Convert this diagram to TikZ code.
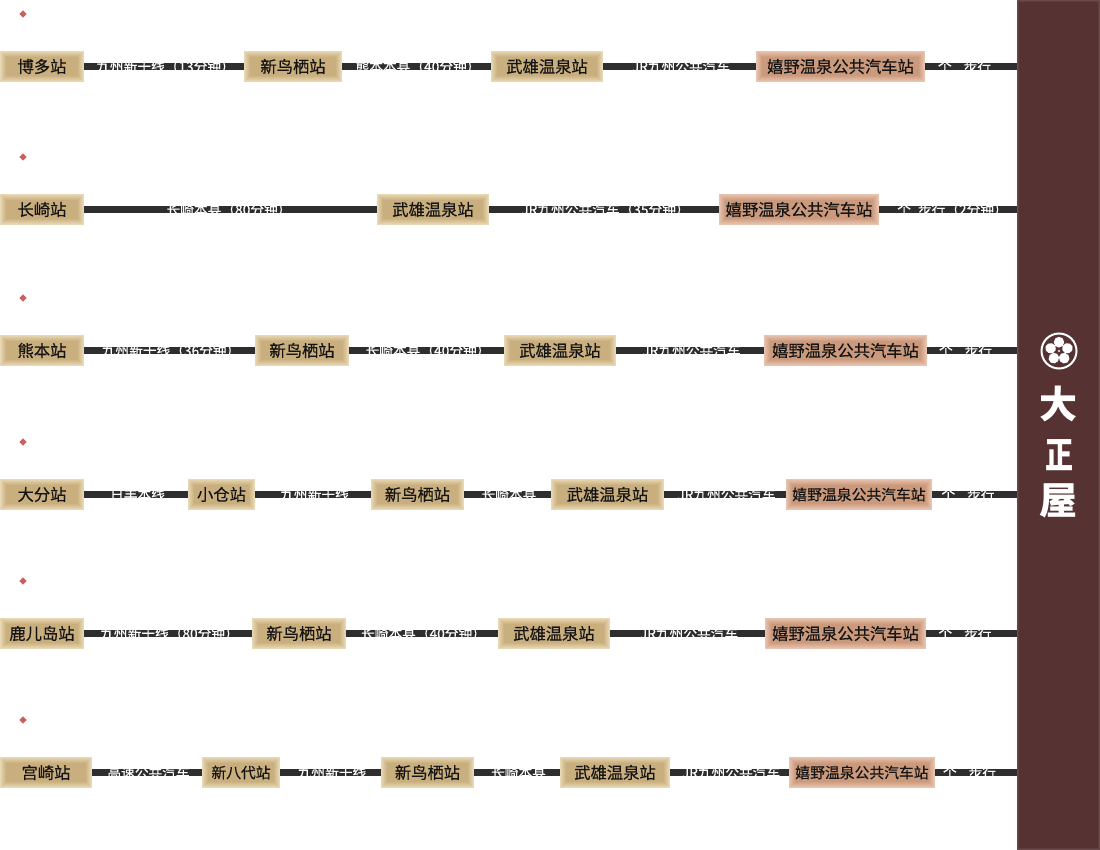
\documentclass[tikz,border=0pt]{standalone}
\usepackage{fontspec}
\setmainfont{Noto Sans CJK SC}
\newfontfamily\stnfont[FakeBold=0.35]{Noto Sans CJK SC}
\usetikzlibrary{shapes.geometric}
\definecolor{tanedge}{HTML}{E8D8B4}
\definecolor{tanmid}{HTML}{C9AE7E}
\definecolor{rosedge}{HTML}{E8C4B0}
\definecolor{rosmid}{HTML}{CB9A7C}
\definecolor{barcol}{HTML}{2E2E2E}
\definecolor{panelcol}{HTML}{563232}
\definecolor{paneledge}{HTML}{6A4A4A}
\definecolor{markcol}{HTML}{C9605C}
\newcommand{\glowrects}[3]{%
  \foreach \i in {0,...,#3}{%
    \pgfmathsetmacro{\mixv}{\i*100/#3}%
    \fill[#2!\mixv!#1] ([shift={(\i pt,\i pt)}]path picture bounding box.south west) rectangle ([shift={(-\i pt,-\i pt)}]path picture bounding box.north east);
  }%
}
\tikzset{
  boxbase/.style={inner sep=0pt,minimum height=31,text=black!92,font=\stnfont\fontsize{16.3}{18}\selectfont},
  station/.style={boxbase,path picture={\glowrects{tanedge}{tanmid}{6}}},
  terminal/.style={boxbase,path picture={\glowrects{rosedge}{rosmid}{6}}},
  bar/.style={draw=barcol,line width=7pt},
  lbl/.style={text=white,inner sep=0pt,midway,xshift=1.5pt,font=\stnfont\fontsize{13.7}{16}\selectfont},
  walk/.style={lbl,xshift=-8pt},
  marker/.style={diamond,fill=markcol,inner sep=0pt,minimum width=7.5,minimum height=7.5},
  panelbox/.style={inner sep=0pt,minimum width=83,minimum height=850,path picture={\glowrects{paneledge}{panelcol}{2}}},
  logochar/.style={text=white,inner sep=0pt,font=\fontsize{38}{40}\selectfont\bfseries}
}
\newcommand{\stn}[6][station]{\node[#1,minimum width={#4-#3}] (#2) at ({(#3+#4)/2},#5) {\raisebox{-1.8pt}{#6}};}
\newcommand{\smallfs}{\fontsize{14.8}{18}\selectfont}
\begin{document}
\begin{tikzpicture}[x=1pt,y=-1pt]
\useasboundingbox (0,0) rectangle (1100,850);
\node[panelbox] (panel) at (1058.5,425) {};
% markers
\node[marker] (m1) at (23,14) {};
\node[marker] (m2) at (23,157) {};
\node[marker] (m3) at (23,298) {};
\node[marker] (m4) at (23,442) {};
\node[marker] (m5) at (23,581) {};
\node[marker] (m6) at (23,720) {};
% row 1
\stn{a1}{0}{84}{66.5}{博多站}
\stn{a2}{244}{342}{66.5}{新鸟栖站}
\stn{a3}{491}{603}{66.5}{武雄温泉站}
\stn[terminal]{a4}{756}{925}{66.5}{嬉野温泉公共汽车站}
\draw[bar] (a1) -- node[lbl]{九州新干线（13分钟）} (a2);
\draw[bar] (a2) -- node[lbl]{熊本本县（40分钟）} (a3);
\draw[bar] (a3) -- node[lbl]{JR九州公共汽车} (a4);
\draw[bar] (a4) -- node[walk]{个\hspace{12pt}步行} (panel.west |- a4);
% row 2
\stn{b1}{0}{84}{209.5}{长崎站}
\stn{b2}{377}{489}{209.5}{武雄温泉站}
\stn[terminal]{b3}{719}{879}{209.5}{嬉野温泉公共汽车站}
\draw[bar] (b1) -- node[lbl,xshift=-3pt]{长崎本县（80分钟）} (b2);
\draw[bar] (b2) -- node[lbl]{JR九州公共汽车（35分钟）} (b3);
\draw[bar] (b3) -- node[lbl,xshift=3pt]{个\hspace{7pt}步行（2分钟）} (panel.west |- b3);
% row 3
\stn{c1}{0}{84}{350.5}{熊本站}
\stn{c2}{255}{349}{350.5}{新鸟栖站}
\stn{c3}{504}{616}{350.5}{武雄温泉站}
\stn[terminal]{c4}{764}{927}{350.5}{嬉野温泉公共汽车站}
\draw[bar] (c1) -- node[lbl]{九州新干线（36分钟）} (c2);
\draw[bar] (c2) -- node[lbl]{长崎本县（40分钟）} (c3);
\draw[bar] (c3) -- node[lbl]{JR九州公共汽车} (c4);
\draw[bar] (c4) -- node[walk]{个\hspace{12pt}步行} (panel.west |- c4);
% row 4
\stn{d1}{0}{84}{494.5}{大分站}
\stn{d2}{188}{255}{494.5}{小仓站}
\stn{d3}{371}{464}{494.5}{新鸟栖站}
\stn{d4}{551}{664}{494.5}{武雄温泉站}
\stn[terminal]{d5}{786}{932}{494.5}{\smallfs 嬉野温泉公共汽车站}
\draw[bar] (d1) -- node[lbl]{日丰本线} (d2);
\draw[bar] (d2) -- node[lbl]{九州新干线} (d3);
\draw[bar] (d3) -- node[lbl]{长崎本县} (d4);
\draw[bar] (d4) -- node[lbl]{JR九州公共汽车} (d5);
\draw[bar] (d5) -- node[walk]{个\hspace{12pt}步行} (panel.west |- d5);
% row 5
\stn{e1}{0}{84}{633.5}{鹿儿岛站}
\stn{e2}{252}{346}{633.5}{新鸟栖站}
\stn{e3}{498}{610}{633.5}{武雄温泉站}
\stn[terminal]{e4}{765}{926}{633.5}{嬉野温泉公共汽车站}
\draw[bar] (e1) -- node[lbl]{九州新干线（80分钟）} (e2);
\draw[bar] (e2) -- node[lbl]{长崎本县（40分钟）} (e3);
\draw[bar] (e3) -- node[lbl]{JR九州公共汽车} (e4);
\draw[bar] (e4) -- node[walk]{个\hspace{12pt}步行} (panel.west |- e4);
% row 6
\stn{f1}{0}{92}{772.5}{宫崎站}
\stn{f2}{202}{280}{772.5}{\smallfs 新八代站}
\stn{f3}{381}{474}{772.5}{新鸟栖站}
\stn{f4}{560}{670}{772.5}{武雄温泉站}
\stn[terminal]{f5}{789}{935}{772.5}{\smallfs 嬉野温泉公共汽车站}
\draw[bar] (f1) -- node[lbl]{高速公共汽车} (f2);
\draw[bar] (f2) -- node[lbl]{九州新干线} (f3);
\draw[bar] (f3) -- node[lbl]{长崎本县} (f4);
\draw[bar] (f4) -- node[lbl]{JR九州公共汽车} (f5);
\draw[bar] (f5) -- node[walk]{个\hspace{12pt}步行} (panel.west |- f5);
% emblem
\node[circle,draw=white,line width=2pt,fill=panelcol,minimum size=35,inner sep=0pt] (emblem) at (1059,351) {};
\foreach \a in {90,162,234,306,18}{
  \fill[white,rotate around={\a:(emblem.center)}] ([xshift=8.8pt]emblem.center) ellipse [x radius=5.4pt,y radius=5.2pt];
}
\fill[panelcol] (emblem.center) circle (2.2pt);
\fill[white] (emblem.center) circle (1.1pt);
% logotype
\node[logochar] (k1) at (1058,404) {大};
\node[logochar,font=\fontsize{28}{32}\selectfont\bfseries,yscale=1.3] (k2) at (1059,455) {正};
\node[logochar] (k3) at (1058,501) {屋};
\end{tikzpicture}
\end{document}
